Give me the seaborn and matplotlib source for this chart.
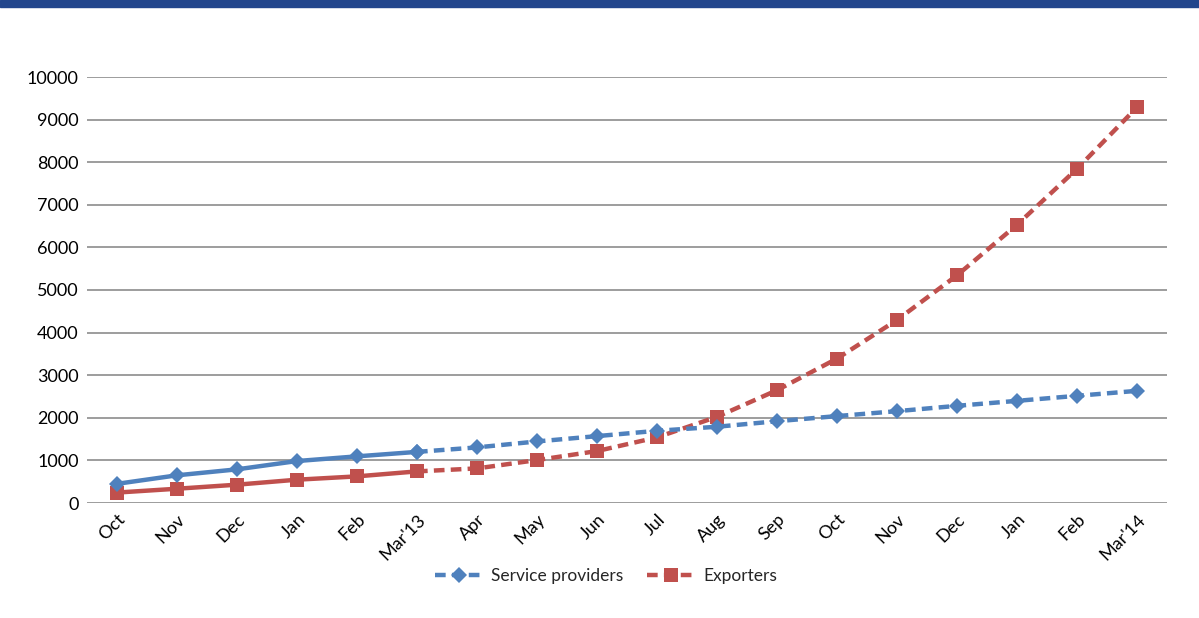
import matplotlib
matplotlib.use("Agg")
import matplotlib.pyplot as plt
from matplotlib.patches import Rectangle
import seaborn as sns
import pandas as pd

months = ["Oct", "Nov", "Dec", "Jan", "Feb", "Mar'13", "Apr", "May", "Jun", "Jul",
          "Aug", "Sep", "Oct", "Nov", "Dec", "Jan", "Feb", "Mar'14"]
service_providers = [450, 650, 790, 985, 1095, 1200, 1305, 1445, 1570, 1695,
                     1790, 1920, 2040, 2156, 2281, 2398, 2516, 2633]
exporters = [245, 335, 430, 547, 625, 742, 812, 1008, 1219, 1540,
             2023, 2648, 3390, 4296, 5344, 6531, 7844, 9289]
yticks = [0, 1000, 2000, 3000, 4000, 5000, 6000, 7000, 8000, 9000, 10000]
split_idx = 5  # actual data through Mar'13, projection afterwards

BLUE = "#4F81BD"
RED = "#C0504D"

sns.set_theme(style="white")
plt.rcParams['font.family'] = ['Lato', 'DejaVu Sans']

fig = plt.figure(figsize=(11.99, 6.18), dpi=100)
ax = fig.add_axes([87/1199, 1 - 503/618, (1167-87)/1199, (503-77)/618])

x = list(range(len(months)))
df = pd.DataFrame({"x": x, "sp": service_providers, "ex": exporters})
solid = df[df.x <= split_idx]
dashed = df[df.x >= split_idx]

DASH = (0, (2.4, 1.4))
sns.lineplot(data=solid, x="x", y="sp", ax=ax, color=BLUE, lw=3.2,
             marker="D", markersize=8.5, markeredgewidth=0, zorder=4)
sns.lineplot(data=dashed, x="x", y="sp", ax=ax, color=BLUE, lw=3.2,
             linestyle=DASH, marker="D", markersize=8.5,
             markeredgewidth=0, zorder=4)
sns.lineplot(data=solid, x="x", y="ex", ax=ax, color=RED, lw=3.2,
             marker="s", markersize=10.5, markeredgewidth=0, zorder=3)
sns.lineplot(data=dashed, x="x", y="ex", ax=ax, color=RED, lw=3.2,
             linestyle=DASH, marker="s", markersize=10.5,
             markeredgewidth=0, zorder=3)

ax.set_xlim(-0.5, len(months) - 0.5)
ax.set_ylim(0, 10000)
ax.set_yticks(yticks)
ax.set_yticklabels([str(v) for v in yticks], fontsize=13, color="#000000")
ax.set_xticks(x)
ax.set_xticklabels(months, rotation=45, ha="right", rotation_mode="anchor",
                   fontsize=13, color="#000000")
ax.tick_params(axis="both", length=0, pad=6)
ax.set_xlabel("")
ax.set_ylabel("")
ax.grid(axis="y", color="#8C8C8C", lw=1.2)
ax.grid(axis="x", visible=False)
for s in ax.spines.values():
    s.set_visible(False)
ax.set_axisbelow(True)

handles = [
    plt.Line2D([], [], color=BLUE, lw=3.2, linestyle=DASH, marker="D",
               markersize=8.5, markeredgewidth=0),
    plt.Line2D([], [], color=RED, lw=3.2, linestyle=DASH, marker="s",
               markersize=10.5, markeredgewidth=0),
]
fig.legend(handles, ["Service providers", "Exporters"], loc="center",
           bbox_to_anchor=(606/1199, 1 - 576/618), ncol=2, frameon=False,
           fontsize=12.5, handlelength=2.7, columnspacing=1.4, handletextpad=0.5)

fig.patches.append(Rectangle((0, 1 - 7/618), 1, 7/618, transform=fig.transFigure,
                             color="#22468C", zorder=10))

fig.savefig("out.png", dpi=100)
